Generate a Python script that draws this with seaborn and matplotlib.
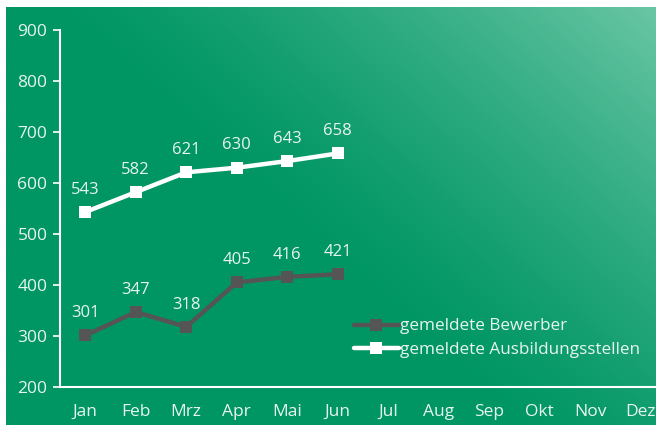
import numpy as np
import pandas as pd
import matplotlib
matplotlib.use("Agg")
import matplotlib.pyplot as plt
import seaborn as sns

monate = ["Jan", "Feb", "Mrz", "Apr", "Mai", "Jun", "Jul", "Aug", "Sep", "Okt", "Nov", "Dez"]
bewerber = [301, 347, 318, 405, 416, 421]
stellen = [543, 582, 621, 630, 643, 658]
serien = ["gemeldete Bewerber", "gemeldete Ausbildungsstellen"]

df = pd.DataFrame({
    "pos": list(range(len(bewerber))) + list(range(len(stellen))),
    "wert": bewerber + stellen,
    "serie": [serien[0]] * len(bewerber) + [serien[1]] * len(stellen),
})

sns.set_style("white")
plt.rcParams["font.family"] = ["Open Sans", "DejaVu Sans"]

fig = plt.figure(figsize=(6.56, 4.25), dpi=100)
fig.patch.set_facecolor("white")

# gradient background
bg = fig.add_axes([6 / 656, 0, 1 - 6 / 656, 418 / 425])
bg.set_axis_off()
xx, yy = np.meshgrid(np.linspace(0, 1, 300), np.linspace(0, 1, 200))
t = np.clip((xx * 0.7 + yy * 0.5 - 0.55) / 0.65, 0, 1) ** 1.3
c0 = np.array([0, 150, 100]) / 255
c1 = np.array([105, 198, 165]) / 255
img = c0 + (c1 - c0) * t[..., None]
bg.imshow(img, aspect="auto", origin="lower", extent=[0, 1, 0, 1])

ax = fig.add_axes([60 / 656, 38 / 425, 606 / 656, 357 / 425])
ax.patch.set_alpha(0)
palette = {serien[0]: "#555555", serien[1]: "white"}
sns.lineplot(data=df, x="pos", y="wert", hue="serie", palette=palette, style="serie",
             markers={serien[0]: "s", serien[1]: "s"}, dashes=False, linewidth=3.2,
             markersize=8, markeredgewidth=0, ax=ax)

txt = "#e8f5ee"
for vals in (bewerber, stellen):
    for i, v in enumerate(vals):
        ax.text(i, v + 28, str(v), ha="center", va="bottom", color=txt, fontsize=12)

ax.set_xlim(-0.5, 11.5)
ax.set_ylim(200, 900)
ax.set_yticks(range(200, 901, 100))
ax.set_xticks(range(12))
ax.set_xticklabels(monate)
ax.set_xticks(np.arange(-0.5, 12, 1), minor=True)
ax.tick_params(axis="x", which="major", length=0, pad=12, colors=txt, labelsize=12.5)
ax.tick_params(axis="x", which="minor", length=5, direction="in", color="white", width=1.2)
ax.tick_params(axis="y", length=5, width=1.2, color="white", colors=txt, labelsize=12.5, pad=4, left=True)
ax.set_xlabel("")
ax.set_ylabel("")
for s in ("top", "right"):
    ax.spines[s].set_visible(False)
for s in ("left", "bottom"):
    ax.spines[s].set_color("white")
    ax.spines[s].set_linewidth(1.5)

leg = ax.legend(loc="upper left", bbox_to_anchor=(0.46, 0.235), frameon=False,
                fontsize=12.3, handlelength=2.6, handletextpad=0.1, labelspacing=0.45)
for t_ in leg.get_texts():
    t_.set_color(txt)

fig.savefig("out.png", dpi=100)
